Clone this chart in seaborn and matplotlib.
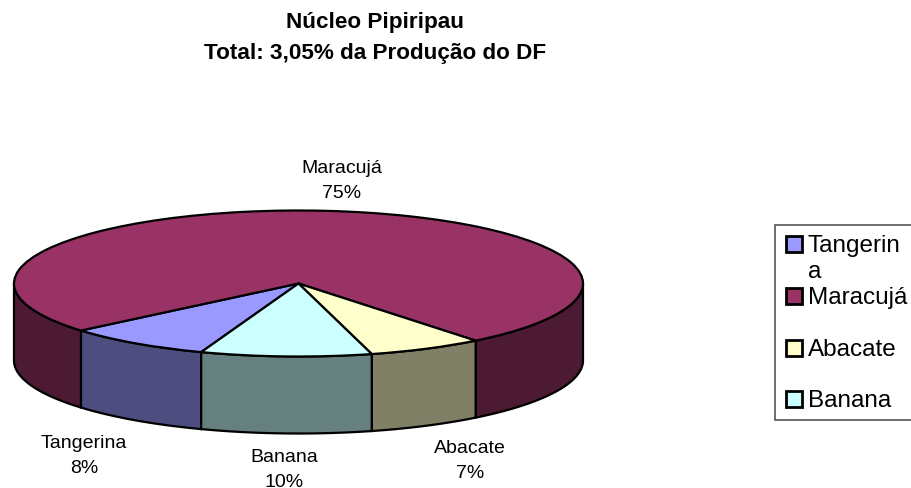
import numpy as np
import seaborn as sns
import matplotlib.pyplot as plt
from matplotlib.patches import Rectangle
from matplotlib.transforms import Affine2D

categories = ['Tangerina', 'Maracujá', 'Abacate', 'Banana']
values = [8.3, 75.45, 6.55, 9.7]
top_colors = ['#9999FF', '#993366', '#FFFFCC', '#CCFFFF']
side_colors = ['#4D4D80', '#4D1A33', '#808066', '#668080']
legend_rows = ['Tangerin\na', 'Maracujá', 'Abacate', 'Banana']
title_lines = ['Núcleo Pipiripau', 'Total: 3,05% da Produção do DF']

W, H = 911, 489
cx, cy, rx, ry, depth = 298.5, H - 284.5, 284.5, 73, 77

sns.set_theme(style='white')
plt.rcParams['font.family'] = ['Liberation Sans', 'DejaVu Sans']

fig = plt.figure(figsize=(W / 100, H / 100), dpi=100)
ax = fig.add_axes([0, 0, 1, 1])

wedges, _ = ax.pie(values, colors=sns.color_palette(top_colors), startangle=250, counterclock=False,
                   wedgeprops={'edgecolor': 'black', 'linewidth': 1.6})
ax.set_aspect('auto')
ax.set_xlim(0, W)
ax.set_ylim(0, H)
ax.axis('off')

# achata a pizza em elipse
squash = Affine2D().scale(rx, ry).translate(cx, cy) + ax.transData
for w in wedges:
    w.set_transform(squash)
    w.set_zorder(3)

# parede lateral, so a metade da frente aparece
for w, col in zip(wedges, side_colors):
    for shift in (0, 360):
        lo = max(w.theta1 + shift, 180)
        hi = min(w.theta2 + shift, 360)
        if lo >= hi:
            continue
        t = np.radians(np.linspace(lo, hi, 80))
        x = cx + rx * np.cos(t)
        y = cy + ry * np.sin(t)
        ax.fill(np.r_[x, x[::-1]], np.r_[y, y[::-1] - depth], facecolor=col,
                edgecolor='black', linewidth=1.6, zorder=2)

ax.text(375, H - 23, title_lines[0], ha='center', va='center', fontsize=16.2, fontweight='bold', color='black')
ax.text(375, H - 54, title_lines[1], ha='center', va='center', fontsize=16.2, fontweight='bold', color='black')

label_pos = [(84, 456), (342, 181), (470, 461), (284, 470)]
for name, val, (lx, ly) in zip(categories, values, label_pos):
    ax.text(lx, H - ly, '{}\n{:.0f}%'.format(name, val), ha='center', va='center',
            fontsize=14, linespacing=1.55, color='black')

# legenda
ax.add_patch(Rectangle((775, H - 421), 150, 195, facecolor='white', edgecolor='#555555', linewidth=1.2, zorder=1))
rows_y = [245, 297, 349, 400]
for name, col, ry_ in zip(legend_rows, top_colors, rows_y):
    ax.add_patch(Rectangle((786, H - ry_ - 8), 16, 16, facecolor=col, edgecolor='black', linewidth=2, zorder=4))
    if '\n' in name:
        a, b = name.split('\n')
        ax.text(808, H - ry_ - 1, a, ha='left', va='center', fontsize=17.5, color='black', zorder=4)
        ax.text(808, H - ry_ - 27, b, ha='left', va='center', fontsize=17.5, color='black', zorder=4)
    else:
        ax.text(808, H - ry_ - 1, name, ha='left', va='center', fontsize=17.5, color='black', zorder=4)

fig.savefig('out.png', dpi=100)
